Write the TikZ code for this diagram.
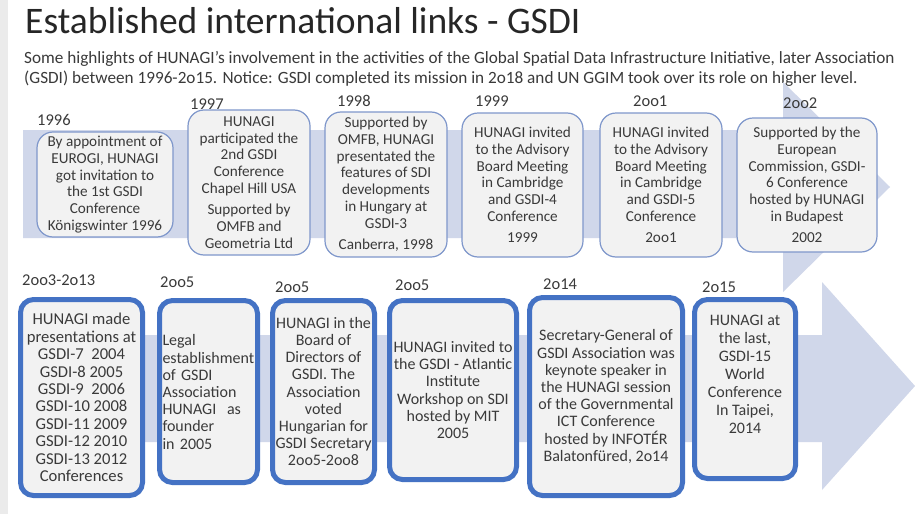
\documentclass[tikz,border=0pt]{standalone}
\usepackage{fontspec}
\setmainfont{Carlito}
\usepackage{tikz}
\definecolor{bandblue}{HTML}{D0D7EA}
\definecolor{oldline}{HTML}{7F97CB}
\definecolor{newline}{HTML}{4472C4}
\definecolor{boxfill}{HTML}{F2F2F2}
\definecolor{textgray}{HTML}{3A3A3A}
\definecolor{stripgray}{HTML}{EBEBEB}

\begin{document}
\begin{tikzpicture}[x=1pt,y=-1pt]
  \tikzset{year style/.style = {anchor = west, inner sep = 0pt, text = textgray, font = \fontsize{16.5}{18}\selectfont},
           old style/.style = {draw = oldline, line width = 1.2pt, fill = boxfill, rounded corners = 16pt,
                               align = center, inner sep = 1pt, text = textgray, font = \fontsize{15.2}{16.7}\selectfont},
           new style/.style = {draw = newline, line width = 5pt, fill = boxfill, rounded corners = 13pt,
                               align = center, inner sep = 1pt, text = textgray, font = \fontsize{16}{17.2}\selectfont}}
  \useasboundingbox (0,0) rectangle (915,514);
  \fill[white] (0,0) rectangle (915,514);
  \fill[stripgray] (0,0) rectangle (8,514);

  % titre
  \node[anchor = base west, inner sep = 0pt, text = black!85, font = \fontsize{37.5}{40}\selectfont] (titre) at (25,33) {Established international links - GSDI};
  \node[anchor = base west, inner sep = 0pt, text = textgray, font = \fontsize{17.2}{20}\selectfont] (sous1) at (24,63)
    {Some highlights of HUNAGI’s involvement in the activities of the Global Spatial Data Infrastructure Initiative, later Association};
  \node[anchor = base west, inner sep = 0pt, text = textgray, font = \fontsize{17.2}{20}\selectfont] (sous2) at (24,83)
    {(GSDI) between 1996-2o15. Notice: GSDI completed its mission in 2o18 and UN GGIM took over its role on higher level.};

  % fleches
  \fill[bandblue] (23,130) -- (783,130) -- (783,82) -- (890,187) -- (783,292) -- (783,238) -- (23,238) -- cycle;
  \fill[bandblue] (23,335) -- (822,335) -- (822,282) -- (915,386) -- (822,490) -- (822,442) -- (23,442) -- cycle;

  % 1996 - 2002
  \node[old style, minimum width = 136, minimum height = 105] (b96) at (105,184.5)
    {By appointment of\\EUROGI, HUNAGI\\got invitation to\\the 1st GSDI\\Conference\\Königswinter 1996};
  \node[old style, minimum width = 122, minimum height = 145] (b97) at (249,182.5)
    {HUNAGI\\participated the\\2nd GSDI\\Conference\\Chapel Hill USA\\[5pt]Supported by\\OMFB and\\Geometria Ltd};
  \node[old style, minimum width = 122, minimum height = 145] (b98) at (386,184.5)
    {Supported by\\OMFB, HUNAGI\\presentated the\\features of SDI\\developments\\in Hungary at\\GSDI-3\\[5pt]Canberra, 1998};
  \node[old style, minimum width = 121, minimum height = 144] (b99) at (522.5,185)
    {HUNAGI invited\\to the Advisory\\Board Meeting\\in Cambridge\\and GSDI-4\\Conference\\[5pt]1999};
  \node[old style, minimum width = 122, minimum height = 144] (b01) at (661,185)
    {HUNAGI invited\\to the Advisory\\Board Meeting\\in Cambridge\\and GSDI-5\\Conference\\[5pt]2oo1};
  \node[old style, minimum width = 140, minimum height = 134] (b02) at (807,185)
    {Supported by the\\European\\Commission, GSDI-\\6 Conference\\hosted by HUNAGI\\in Budapest\\[5pt]2002};

  \node[year style] (y96) at (37,120) {1996};
  \node[year style] (y97) at (190,104) {1997};
  \node[year style] (y98) at (337,101) {1998};
  \node[year style] (y99) at (475,101) {1999};
  \node[year style] (y01) at (633,101) {2oo1};
  \node[year style] (y02) at (783,103) {2oo2};

  % 2003 - 2015
  \node[new style, minimum width = 122, minimum height = 196, font = \fontsize{16.6}{17.4}\selectfont] (c03) at (81.5,397.5)
    {HUNAGI made\\presentations at\\GSDI-7~~2004\\GSDI-8 2005\\GSDI-9~~2006\\GSDI-10 2008\\GSDI-11 2009\\GSDI-12 2010\\GSDI-13 2012\\Conferences};
  \node[new style, minimum width = 98, minimum height = 182, align = left, text width = 92] (c05a) at (208.5,391.5)
    {\\[-5pt]Legal\\establishment\\of GSDI\\Association\\HUNAGI~~as\\founder\\in 2005};
  \node[new style, minimum width = 102, minimum height = 182] (c05b) at (323.5,391.5)
    {HUNAGI in the\\Board of\\Directors of\\GSDI. The\\Association\\voted\\Hungarian for\\GSDI Secretary\\2oo5-2oo8};
  \node[new style, minimum width = 127, minimum height = 179] (c05c) at (453,390)
    {HUNAGI invited to\\the GSDI - Atlantic\\Institute\\Workshop on SDI\\hosted by MIT\\2005};
  \node[new style, minimum width = 153, minimum height = 198] (c14) at (606,396.5)
    {Secretary-General of\\GSDI Association was\\keynote speaker in\\the HUNAGI session\\of the Governmental\\ICT Conference\\hosted by INFOTÉR\\Balatonfüred, 2o14};
  \node[new style, minimum width = 101, minimum height = 179, font = \fontsize{16}{18}\selectfont] (c15) at (745,389)
    {HUNAGI at\\the last,\\GSDI-15\\World\\Conference\\In Taipei,\\2014\\[12pt]};

  \node[year style] (y03) at (22,280) {2oo3-2o13};
  \node[year style] (y05a) at (160,282) {2oo5};
  \node[year style] (y05b) at (275,287) {2oo5};
  \node[year style] (y05c) at (395,285) {2oo5};
  \node[year style] (y14) at (543,284) {2o14};
  \node[year style] (y15) at (702,287) {2o15};
\end{tikzpicture}
\end{document}
